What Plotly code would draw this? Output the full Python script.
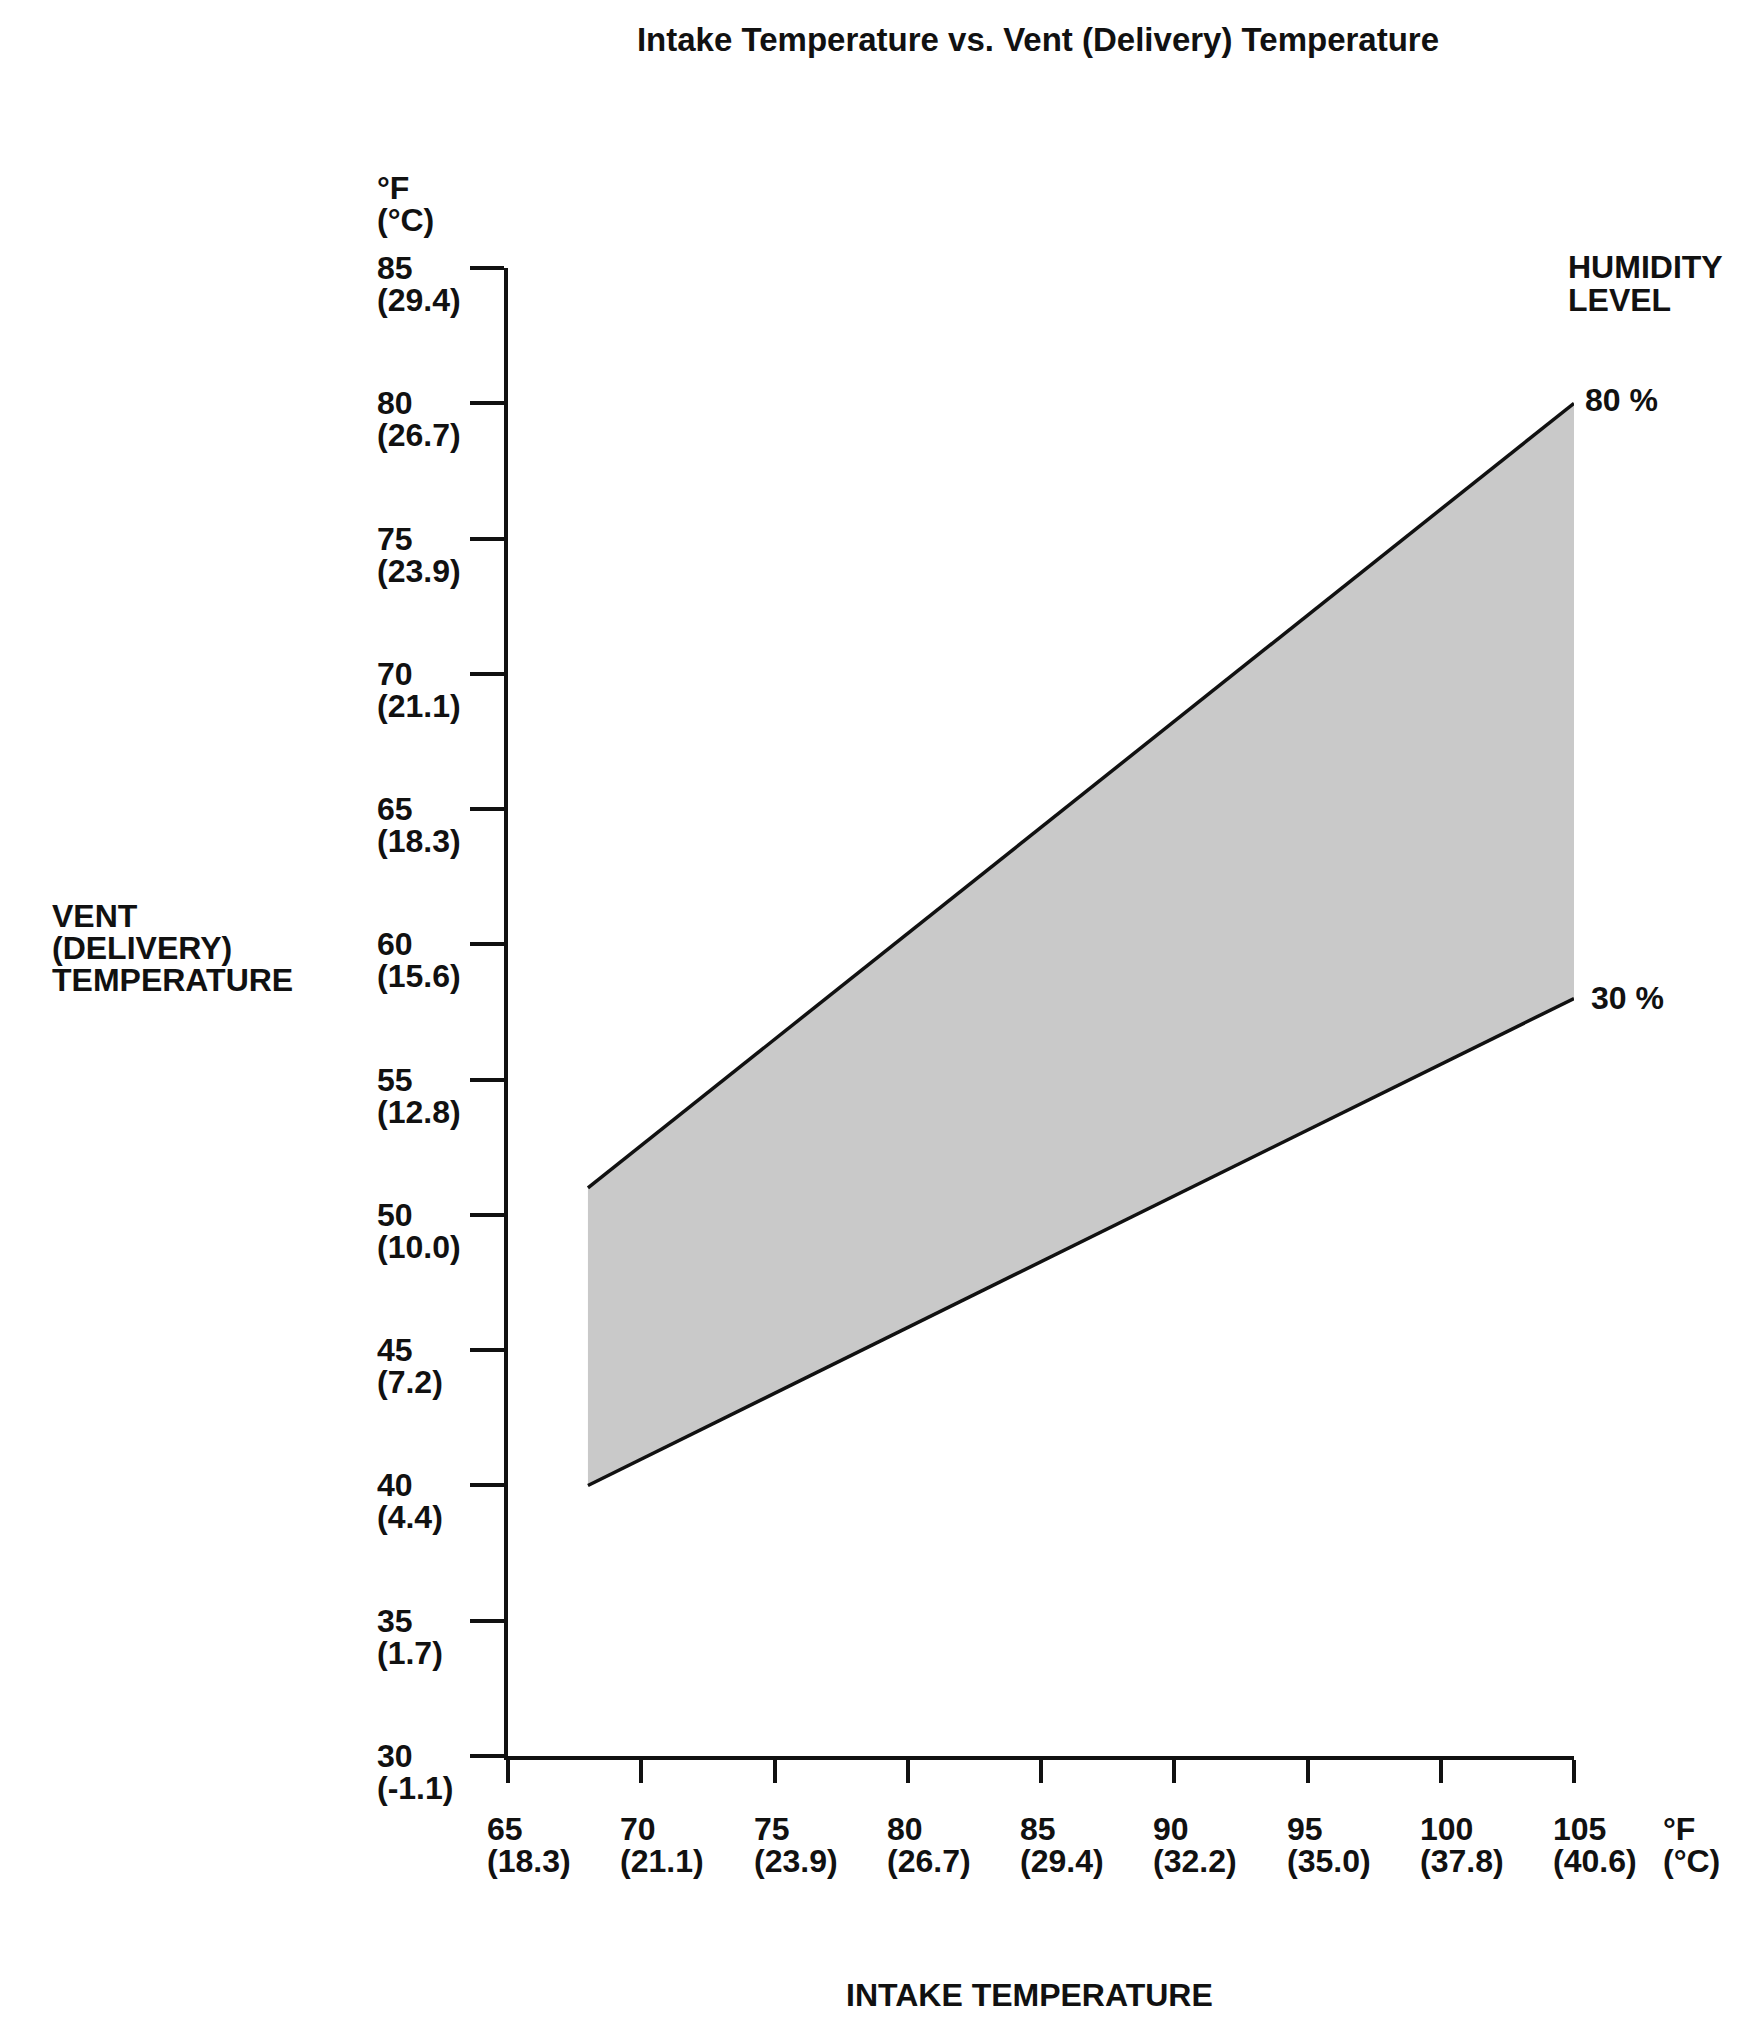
import plotly.graph_objects as go

# Data
intake_f = [68, 105]
humidity_80 = [51, 80]
humidity_30 = [40, 58]

y_ticks_f = [30, 35, 40, 45, 50, 55, 60, 65, 70, 75, 80, 85]
y_ticks_c = ["(-1.1)", "(1.7)", "(4.4)", "(7.2)", "(10.0)", "(12.8)", "(15.6)",
             "(18.3)", "(21.1)", "(23.9)", "(26.7)", "(29.4)"]
x_ticks_f = [65, 70, 75, 80, 85, 90, 95, 100, 105]
x_ticks_c = ["(18.3)", "(21.1)", "(23.9)", "(26.7)", "(29.4)", "(32.2)",
             "(35.0)", "(37.8)", "(40.6)"]

FONT = "Liberation Sans, Arial, sans-serif"
FS = 32
BLACK = "#111111"

# page geometry (page has an 8px body margin)
OFF = 8
W, H = 1751 - 2 * OFF, 2035 - 2 * OFF
PL, PR, PT, PB = 508, 1574, 268, 1756   # plot area edges in page pixels
L, T = PL - OFF, PT - OFF
R = W - (PR - OFF)
B = H - (PB - OFF)
pw, ph = PR - PL, PB - PT

def paper(xp, yp):
    return (xp - PL) / pw, (PB - yp) / ph

fig = go.Figure()
fig.add_trace(go.Scatter(x=intake_f, y=humidity_30, mode="lines",
                         line=dict(color=BLACK, width=3.5), showlegend=False,
                         hoverinfo="skip"))
fig.add_trace(go.Scatter(x=intake_f, y=humidity_80, mode="lines",
                         line=dict(color=BLACK, width=3.5), fill="tonexty",
                         fillcolor="#c9c9c9", showlegend=False, hoverinfo="skip"))

ann = []
def txt(text, x, y, xshift=0, yshift=0, xanchor="left", size=FS, xref="x", yref="y"):
    ann.append(dict(text="<b>%s</b>" % text, x=x, y=y, xref=xref, yref=yref,
                    xshift=xshift, yshift=yshift, xanchor=xanchor, yanchor="middle",
                    showarrow=False, align="left",
                    font=dict(family=FONT, size=size, color=BLACK)))

# y tick labels
for f, c in zip(y_ticks_f, y_ticks_c):
    txt(str(f), 65, f, xshift=-133, yshift=0)
    txt(c, 65, f, xshift=-133, yshift=-32)
txt("°F", 65, 85, xshift=-133, yshift=80)
txt("(°C)", 65, 85, xshift=-133, yshift=48)

# x tick labels
for f, c in zip(x_ticks_f, x_ticks_c):
    txt(str(f), f, 30, xshift=-23, yshift=-73)
    txt(c, f, 30, xshift=-23, yshift=-105)
txt("°F", 105, 30, xshift=87, yshift=-73)
txt("(°C)", 105, 30, xshift=87, yshift=-105)

# Axis titles
for i, t in enumerate(["VENT", "(DELIVERY)", "TEMPERATURE"]):
    px, py = paper(50, 916 + 32 * i)
    txt(t, px, py, xref="paper", yref="paper")

px, py = paper(1029, 1995)
txt("INTAKE TEMPERATURE", px, py, xref="paper", yref="paper", xanchor="center")

# Humidity labels
txt("HUMIDITY", 105, 85, xshift=1566 - 1574, yshift=1)
txt("LEVEL", 105, 85, xshift=1566 - 1574, yshift=-32)
txt("80 %", 105, humidity_80[1], xshift=9, yshift=3)
txt("30 %", 105, humidity_30[1], xshift=15, yshift=0)

fig.update_layout(
    width=W, height=H,
    margin=dict(l=L, r=R, t=T, b=B),
    paper_bgcolor="white", plot_bgcolor="white",
    title=dict(text="<b>Intake Temperature vs. Vent (Delivery) Temperature</b>",
               x=(1038 - OFF) / W, xanchor="center", y=1 - (39 - OFF) / H,
               yanchor="middle",
               font=dict(family=FONT, size=33, color=BLACK)),
    xaxis=dict(range=[65, 105], tickvals=x_ticks_f, showticklabels=False,
               ticks="outside", ticklen=23, tickwidth=3.5, tickcolor=BLACK,
               showline=True, linewidth=3.5, linecolor=BLACK,
               showgrid=False, zeroline=False, fixedrange=True),
    yaxis=dict(range=[30, 85], tickvals=y_ticks_f, showticklabels=False,
               ticks="outside", ticklen=34, tickwidth=3.5, tickcolor=BLACK,
               showline=True, linewidth=3.5, linecolor=BLACK,
               showgrid=False, zeroline=False, fixedrange=True),
    annotations=ann,
    showlegend=False,
)

fig.write_html("out.html")
